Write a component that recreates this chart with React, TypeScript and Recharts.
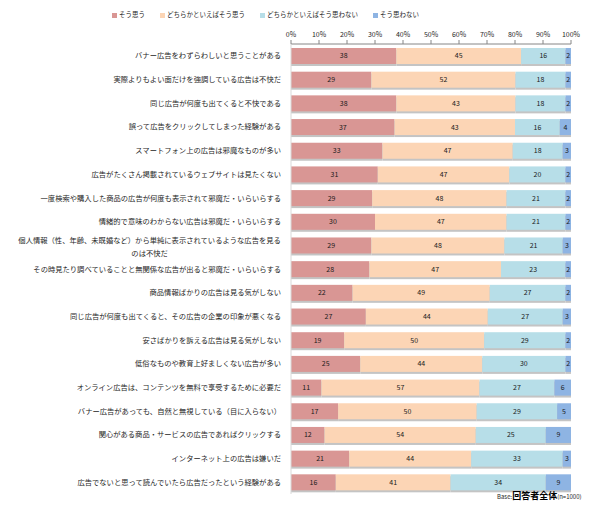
import { Bar, BarChart, LabelList, XAxis, YAxis } from 'recharts';

const categories = [
  'バナー広告をわずらわしいと思うことがある',
  '実際よりもよい面だけを強調している広告は不快だ',
  '同じ広告が何度も出てくると不快である',
  '誤って広告をクリックしてしまった経験がある',
  'スマートフォン上の広告は邪魔なものが多い',
  '広告がたくさん掲載されているウェブサイトは見たくない',
  '一度検索や購入した商品の広告が何度も表示されて邪魔だ・いらいらする',
  '情緒的で意味のわからない広告は邪魔だ・いらいらする',
  '個人情報（性、年齢、未既婚など）から単純に表示されているような広告を見る\nのは不快だ',
  'その時見たり調べていることと無関係な広告が出ると邪魔だ・いらいらする',
  '商品情報ばかりの広告は見る気がしない',
  '同じ広告が何度も出てくると、その広告の企業の印象が悪くなる',
  '安さばかりを訴える広告は見る気がしない',
  '低俗なものや教育上好ましくない広告が多い',
  'オンライン広告は、コンテンツを無料で享受するために必要だ',
  'バナー広告があっても、自然と無視している（目に入らない）',
  '関心がある商品・サービスの広告であればクリックする',
  'インターネット上の広告は嫌いだ',
  '広告でないと思って読んでいたら広告だったという経験がある',
];

const agree = [38, 29, 38, 37, 33, 31, 29, 30, 29, 28, 22, 27, 19, 25, 11, 17, 12, 21, 16];
const somewhatAgree = [45, 52, 43, 43, 47, 47, 48, 47, 48, 47, 49, 44, 50, 44, 57, 50, 54, 44, 41];
const somewhatDisagree = [16, 18, 18, 16, 18, 20, 21, 21, 21, 23, 27, 27, 29, 30, 27, 29, 25, 33, 34];
const disagree = [2, 2, 2, 4, 3, 2, 2, 2, 3, 2, 2, 3, 2, 2, 6, 5, 9, 3, 9];

const seriesKeys = ['agree', 'somewhatAgree', 'somewhatDisagree', 'disagree'];
const seriesNames = ['そう思う', 'どちらかといえばそう思う', 'どちらかといえばそう思わない', 'そう思わない'];
const seriesColors = ['#D99694', '#FCD5B5', '#B7DEE8', '#8EB4E3'];

const xTicks = [0, 0.1, 0.2, 0.3, 0.4, 0.5, 0.6, 0.7, 0.8, 0.9, 1];

const data = categories.map((name, i) => ({
  name,
  agree: agree[i],
  somewhatAgree: somewhatAgree[i],
  somewhatDisagree: somewhatDisagree[i],
  disagree: disagree[i],
}));

const FONT = '"Noto Sans CJK JP", "Noto Sans", sans-serif';
const LABEL_SIZE = 7.3;

// Y axis labels, right aligned; the one long label wraps and is centred like in Excel
const CategoryTick = (props: any) => {
  const { x, y, payload } = props;
  const lines = String(payload.value).split('\n');
  if (lines.length === 1) {
    return (
      <text x={x} y={y} dy={2.6} textAnchor="end" fontSize={LABEL_SIZE} fill="#262626" fontFamily={FONT}>
        {lines[0]}
      </text>
    );
  }
  const cx = x - (lines[0].length * LABEL_SIZE) / 2;
  return (
    <text x={cx} y={y} textAnchor="middle" fontSize={LABEL_SIZE} fill="#262626" fontFamily={FONT}>
      {lines.map((line, i) => (
        <tspan key={i} x={cx} y={y + (i - (lines.length - 1) / 2) * 12.5 + 4}>
          {line}
        </tspan>
      ))}
    </text>
  );
};

// bar segment with a small grey drop shadow underneath
const ShadowBar = (props: any) => {
  const { x, y, width, height, fill } = props;
  if (!width || !height) return null;
  return (
    <g>
      <rect x={x} y={y + 2} width={width} height={height} fill="#c4c4c4" />
      <rect x={x} y={y} width={width} height={height} fill={fill} />
    </g>
  );
};

export default function App() {
  return (
    <div
      style={{
        position: 'absolute',
        left: 0,
        top: 0,
        width: 594,
        height: 506,
        background: '#fff',
        fontFamily: FONT,
      }}
    >
      <div
        style={{
          position: 'absolute',
          left: 112,
          top: 9,
          display: 'flex',
          gap: 15,
          fontSize: 6.5,
          color: '#262626',
          lineHeight: '10px',
          whiteSpace: 'nowrap',
        }}
      >
        {seriesNames.map((n, i) => (
          <div key={n} style={{ display: 'flex', alignItems: 'center' }}>
            <span
              style={{
                display: 'inline-block',
                width: 5,
                height: 5,
                marginTop: 3,
                marginRight: 2,
                background: seriesColors[i],
              }}
            />
            {n}
          </div>
        ))}
      </div>

      <BarChart
        width={594}
        height={506}
        data={data}
        layout="vertical"
        stackOffset="expand"
        barSize={16}
        margin={{ top: 14, right: 23, bottom: 12, left: 0 }}
      >
        <XAxis
          type="number"
          orientation="top"
          domain={[0, 1]}
          ticks={xTicks}
          tickFormatter={(v: number) => `${Math.round(v * 100)}%`}
          height={30}
          axisLine={{ stroke: '#868686' }}
          tickLine={{ stroke: '#868686' }}
          tickSize={4}
          tickMargin={3}
          tick={{ fontSize: 7, fill: '#262626', fontFamily: FONT }}
        />
        <XAxis
          xAxisId="bottom"
          type="number"
          orientation="bottom"
          domain={[0, 1]}
          height={0}
          tick={false}
          tickLine={false}
          axisLine={{ stroke: '#d9d9d9' }}
        />
        <YAxis
          type="category"
          dataKey="name"
          width={291}
          interval={0}
          tickSize={0}
          tickMargin={10}
          tickLine={false}
          axisLine={{ stroke: '#d9d9d9' }}
          tick={<CategoryTick />}
        />
        <YAxis
          yAxisId="right"
          type="category"
          dataKey="name"
          orientation="right"
          width={0}
          tick={false}
          tickLine={false}
          axisLine={{ stroke: '#d9d9d9' }}
        />
        {seriesKeys.map((k, i) => (
          <Bar
            key={k}
            dataKey={k}
            name={seriesNames[i]}
            stackId="a"
            fill={seriesColors[i]}
            shape={<ShadowBar />}
            isAnimationActive={false}
          >
            <LabelList
              dataKey={k}
              position="center"
              fontSize={7}
              fill="#1a1a1a"
              fontFamily={FONT}
            />
          </Bar>
        ))}
      </BarChart>

      <div
        style={{
          position: 'absolute',
          left: 497,
          top: 490,
          whiteSpace: 'nowrap',
          color: '#262626',
          fontSize: 6,
          lineHeight: '12px',
        }}
      >
        Base:<span style={{ fontSize: 9, fontWeight: 'bold', color: '#000' }}>回答者全体</span>(n=1000)
      </div>
    </div>
  );
}
